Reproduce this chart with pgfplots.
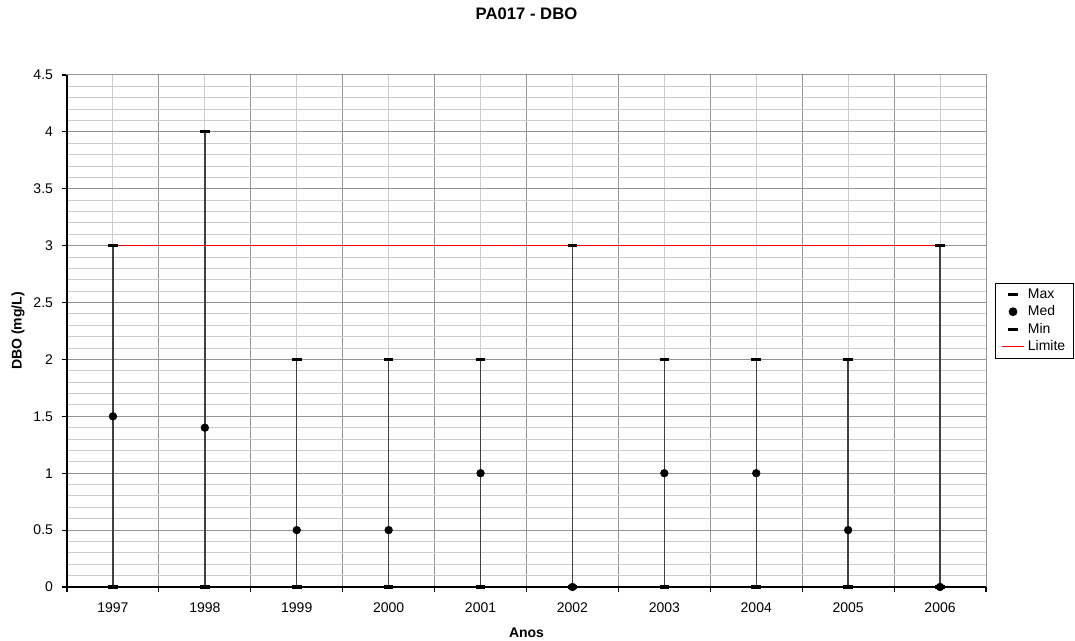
\documentclass[border=0pt]{standalone}
\usepackage{fontspec}
\setmainfont{Liberation Sans}
\usepackage{pgfplots}
\pgfplotsset{compat=1.18}
\definecolor{limite}{RGB}{255,0,0}
\begin{document}
\begin{tikzpicture}
\begin{axis}[
  name=ax,
  scale only axis, width=689.25pt, height=384pt,
  xmin=-0.5, xmax=9.5, ymin=0, ymax=4.5,
  axis line style={draw=black!42, line width=0.75pt},
  clip=false,
  unbounded coords=jump,
  xtick pos=bottom, ytick pos=left,
  /pgf/number format/assume math mode=true,
  font=\fontsize{10.5}{12.5}\selectfont,
  tick label style={font=\fontsize{10.5}{12.5}\selectfont},
  xtick={-0.5,0.5,...,9.5},
  xticklabels={},
  minor xtick={0,1,...,9},
  extra x ticks={0,1,2,3,4,5,6,7,8,9},
  extra x tick labels={1997,1998,1999,2000,2001,2002,2003,2004,2005,2006},
  extra x tick style={grid=none, major tick length=0pt, xticklabel style={yshift=-8pt}},
  ytick={0,0.5,...,4.5},
  minor y tick num=4,
  yticklabels={0,0.5,1,1.5,2,2.5,3,3.5,4,4.5},
  yticklabel style={xshift=-3pt},
  tick align=outside,
  major tick length=4pt,
  minor tick length=0pt,
  tick style={black, line width=0.8pt},
  grid=both,
  major grid style={color=black!42, line width=0.75pt},
  minor grid style={color=black!20, line width=0.75pt},
  title={\textbf{PA017 - DBO}},
  title style={at={(axis description cs:0.5,1.1035)}, anchor=center, font=\fontsize{12.5}{14}\selectfont},
  xlabel={\textbf{Anos}},
  xlabel style={at={(axis description cs:0.5,-0.0898)}, anchor=center},
  ylabel={\textbf{DBO (mg/L)}},
  ylabel style={at={(axis description cs:-0.0533,0.5)}, anchor=center},
  legend style={at={(axis description cs:1.0098,0.594)}, anchor=north west,
    draw=black, line width=0.75pt, font=\fontsize{10.5}{12.5}\selectfont,
    row sep=0pt, inner xsep=4pt, inner ysep=2pt},
  legend cell align=left,
]
\draw[black, line width=0.8pt] (axis cs:-0.5,4.5) -- (axis cs:-0.5,0) -- (axis cs:9.5,0);
% high-low lines: min to max for each year
\addplot[black!75, line width=1.1pt, mark=none, forget plot] coordinates {
  (0,0) (0,3) (0,nan)
  (1,0) (1,4) (1,nan)
  (2,0) (2,2) (2,nan)
  (3,0) (3,2) (3,nan)
  (4,0) (4,2) (4,nan)
  (5,0) (5,3) (5,nan)
  (6,0) (6,2) (6,nan)
  (7,0) (7,2) (7,nan)
  (8,0) (8,2) (8,nan)
  (9,0) (9,3)};
\addplot[only marks, mark=-, mark size=3.6pt, mark options={line width=2.4pt, black}] coordinates {
  (0,3) (1,4) (2,2) (3,2) (4,2) (5,3) (6,2) (7,2) (8,2) (9,3)};
\addlegendentry{Max}
\addplot[only marks, mark=*, mark size=2.9pt, black] coordinates {
  (0,1.5) (1,1.4) (2,0.5) (3,0.5) (4,1) (5,0) (6,1) (7,1) (8,0.5) (9,0)};
\addlegendentry{Med}
\addplot[only marks, mark=-, mark size=3.6pt, mark options={line width=2.4pt, black}] coordinates {
  (0,0) (1,0) (2,0) (3,0) (4,0) (5,0) (6,0) (7,0) (8,0) (9,0)};
\addlegendentry{Min}
\addplot[color=red, draw=red, solid, line width=1.2pt, no markers] table[row sep=\\] {
  x y \\
  0 3 \\
  9 3 \\
};
\addlegendentry{Limite}
\end{axis}
\pgfresetboundingbox
\path (-50.25pt,-40.5pt) rectangle (756pt,440.25pt);
\end{tikzpicture}
\end{document}
